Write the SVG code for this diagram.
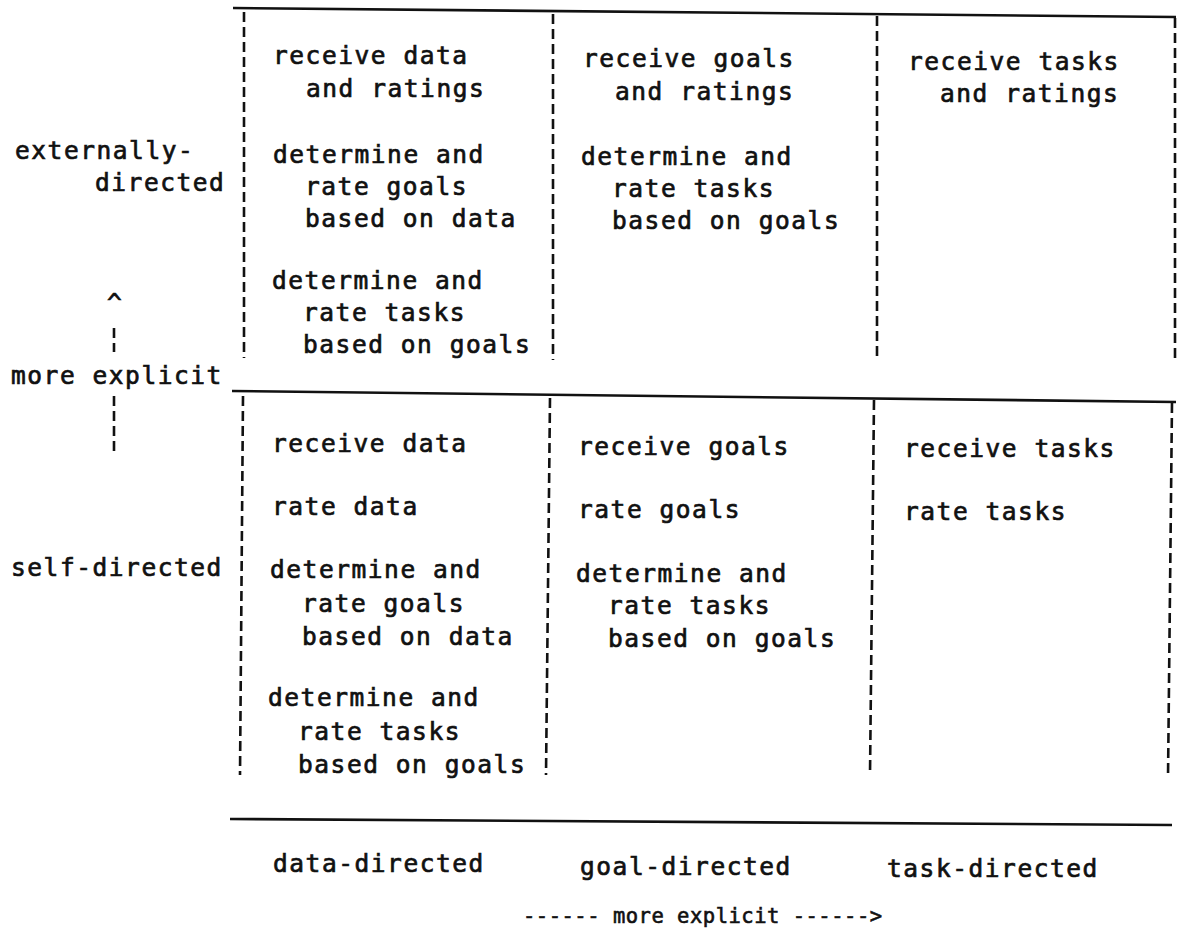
<svg xmlns="http://www.w3.org/2000/svg" width="1179" height="947" viewBox="0 0 1179 947">
  <style>
    .t { font-family: "DejaVu Sans Mono", "Liberation Mono", monospace; font-size: 24.5px; letter-spacing: 1.55px; fill: #111; stroke: #111; stroke-width: 0.7px; }
    .small { font-size: 20.5px; letter-spacing: 0.5px; stroke-width: 0.6px; }
    .rule { stroke: #111; stroke-width: 2.6; fill: none; }
    .dash { stroke: #111; stroke-width: 2.6; fill: none; stroke-dasharray: 10 5; }
  </style>
  <rect width="1179" height="947" fill="#fff"/>

  <!-- table rules and column separators -->
  <g id="connectors">
    <line class="rule" x1="233" y1="8" x2="1176" y2="17"/>
    <line class="rule" x1="232" y1="391" x2="1176" y2="402"/>
    <line class="rule" x1="230" y1="819" x2="1172" y2="825"/>

    <line class="dash" x1="244" y1="12" x2="244" y2="358"/>
    <line class="dash" x1="553" y1="14" x2="553" y2="360"/>
    <line class="dash" x1="877" y1="16" x2="877" y2="360"/>
    <line class="dash" x1="1175" y1="18" x2="1175" y2="362"/>

    <line class="dash" x1="243" y1="396" x2="240" y2="775"/>
    <line class="dash" x1="550" y1="398" x2="546" y2="775"/>
    <line class="dash" x1="874" y1="400" x2="870" y2="775"/>
    <line class="dash" x1="1172" y1="403" x2="1168" y2="778"/>

    <!-- vertical axis marker -->
    <line class="dash" x1="114" y1="328" x2="114" y2="352"/>
    <line class="dash" x1="114" y1="396" x2="114" y2="452"/>
  </g>

  <!-- row labels -->
  <g id="row-external">
    <text class="t" x="15" y="159">externally-</text>
    <text class="t" x="95" y="191">directed</text>
  </g>
  <g id="row-axis">
    <text class="t" x="107" y="311">^</text>
    <text class="t" x="11" y="384">more explicit</text>
  </g>
  <g id="row-self">
    <text class="t" x="11" y="576">self-directed</text>
  </g>

  <!-- externally-directed row -->
  <g id="ext-data">
    <text class="t" x="273" y="64">receive data</text>
    <text class="t" x="306" y="97">and ratings</text>
    <text class="t" x="273" y="163">determine and</text>
    <text class="t" x="305" y="195">rate goals</text>
    <text class="t" x="305" y="227">based on data</text>
    <text class="t" x="272" y="289">determine and</text>
    <text class="t" x="303" y="321">rate tasks</text>
    <text class="t" x="303" y="353">based on goals</text>
  </g>
  <g id="ext-goal">
    <text class="t" x="583" y="67">receive goals</text>
    <text class="t" x="615" y="100">and ratings</text>
    <text class="t" x="581" y="165">determine and</text>
    <text class="t" x="612" y="197">rate tasks</text>
    <text class="t" x="612" y="229">based on goals</text>
  </g>
  <g id="ext-task">
    <text class="t" x="908" y="70">receive tasks</text>
    <text class="t" x="940" y="102">and ratings</text>
  </g>

  <!-- self-directed row -->
  <g id="self-data">
    <text class="t" x="272" y="452">receive data</text>
    <text class="t" x="272" y="515">rate data</text>
    <text class="t" x="270" y="578">determine and</text>
    <text class="t" x="302" y="612">rate goals</text>
    <text class="t" x="302" y="645">based on data</text>
    <text class="t" x="268" y="706">determine and</text>
    <text class="t" x="298" y="740">rate tasks</text>
    <text class="t" x="298" y="773">based on goals</text>
  </g>
  <g id="self-goal">
    <text class="t" x="578" y="455">receive goals</text>
    <text class="t" x="578" y="518">rate goals</text>
    <text class="t" x="576" y="582">determine and</text>
    <text class="t" x="608" y="614">rate tasks</text>
    <text class="t" x="608" y="647">based on goals</text>
  </g>
  <g id="self-task">
    <text class="t" x="904" y="457">receive tasks</text>
    <text class="t" x="904" y="520">rate tasks</text>
  </g>

  <!-- column labels -->
  <g id="col-data"><text class="t" x="273" y="872">data-directed</text></g>
  <g id="col-goal"><text class="t" x="580" y="875">goal-directed</text></g>
  <g id="col-task"><text class="t" x="887" y="877">task-directed</text></g>
  <g id="col-axis"><text class="t small" x="523" y="923">------ more explicit ------&gt;</text></g>
</svg>
